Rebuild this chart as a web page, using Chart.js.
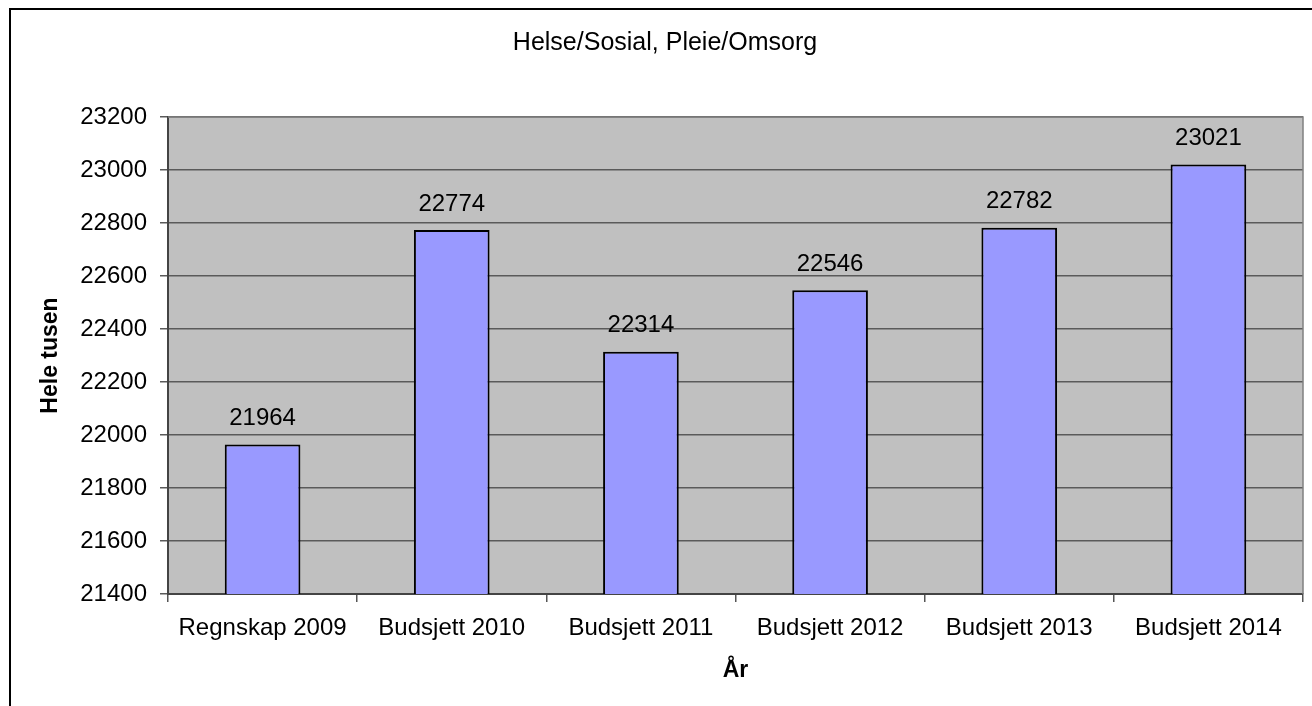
<!DOCTYPE html>
<html>
<head>
<meta charset="utf-8">
<script src="https://cdn.jsdelivr.net/npm/chart.js@4"></script>
<style>
  body { margin: 0; background: #fff; }
  #wrap { position: relative; width: 1312px; height: 706px; overflow: hidden; }
  #frame { position: absolute; left: 9px; top: 8px; width: 1320px; height: 720px; border: 2px solid #000; box-sizing: border-box; pointer-events: none; }
  canvas { position: absolute; left: 0; top: 0; }
</style>
</head>
<body>
<div id="wrap">
  <canvas id="chart" width="1312" height="706"></canvas>
  <div id="frame"></div>
</div>
<script>
  const categories = ['Regnskap 2009', 'Budsjett 2010', 'Budsjett 2011', 'Budsjett 2012', 'Budsjett 2013', 'Budsjett 2014'];
  const values = [21964, 22774, 22314, 22546, 22782, 23021];
  const yTicks = [21400, 21600, 21800, 22000, 22200, 22400, 22600, 22800, 23000, 23200];

  const FONT = "'Liberation Sans', Arial, sans-serif";

  // grå plottbakgrunn og ramme
  const plotBg = {
    id: 'plotBg',
    beforeDraw(chart) {
      const a = chart.chartArea;
      const c = chart.ctx;
      c.save();
      c.fillStyle = '#C0C0C0';
      c.fillRect(a.left, a.top, a.right - a.left, a.bottom - a.top);
      c.restore();
    },
    afterDatasetsDraw(chart) {
      const a = chart.chartArea;
      const c = chart.ctx;
      c.save();
      c.strokeStyle = '#808080';
      c.lineWidth = 1.5;
      c.beginPath();
      c.moveTo(a.left, a.top);
      c.lineTo(a.right, a.top);
      c.lineTo(a.right, a.bottom);
      c.stroke();
      c.restore();
    }
  };

  // verdier over søylene
  const barLabels = {
    id: 'barLabels',
    afterDatasetsDraw(chart) {
      const c = chart.ctx;
      const meta = chart.getDatasetMeta(0);
      c.save();
      c.fillStyle = '#000';
      c.font = '24px ' + FONT;
      c.textAlign = 'center';
      c.textBaseline = 'middle';
      meta.data.forEach((bar, i) => {
        c.fillText(String(values[i]), bar.x, bar.y - 26);
      });
      c.restore();
    }
  };

  const ctx = document.getElementById('chart').getContext('2d');
  new Chart(ctx, {
    type: 'bar',
    data: {
      labels: categories,
      datasets: [{
        data: values,
        backgroundColor: '#9999FF',
        borderColor: '#000',
        borderWidth: 2,
        borderSkipped: false,
        barPercentage: 0.4,
        categoryPercentage: 1
      }]
    },
    options: {
      responsive: false,
      animation: false,
      layout: { padding: { left: 27, right: 9, top: 0, bottom: 0 } },
      plugins: {
        legend: { display: false },
        tooltip: { enabled: false },
        title: {
          display: true,
          text: 'Helse/Sosial, Pleie/Omsorg',
          color: '#000',
          font: { family: FONT, size: 25, weight: 'normal', lineHeight: 1.2 },
          padding: { top: 28, bottom: 59 }
        }
      },
      scales: {
        x: {
          offset: true,
          afterFit(scale) { scale.height = 112; },
          grid: { offset: true, drawOnChartArea: false, tickLength: 8, color: '#555', lineWidth: 1.5 },
          border: { color: '#444', width: 2 },
          ticks: { color: '#000', padding: 12, font: { family: FONT, size: 24 }, maxRotation: 0 },
          title: {
            display: true,
            text: 'År',
            color: '#000',
            font: { family: FONT, size: 23, weight: 'bold', lineHeight: 1.2 },
            padding: { top: 22, bottom: 22 }
          }
        },
        y: {
          min: yTicks[0],
          max: yTicks[yTicks.length - 1],
          afterFit(scale) { scale.width = 141; },
          afterBuildTicks(scale) { scale.ticks = yTicks.map(v => ({ value: v })); },
          grid: { color: '#5a5a5a', lineWidth: 1.5, tickLength: 8 },
          border: { color: '#444', width: 2 },
          ticks: {
            color: '#000',
            padding: 13,
            font: { family: FONT, size: 24 },
            callback: v => String(v)
          },
          title: {
            display: true,
            text: 'Hele tusen',
            color: '#000',
            font: { family: FONT, size: 23, weight: 'bold', lineHeight: 1.2 },
            padding: { top: 10, bottom: 10 }
          }
        }
      }
    },
    plugins: [plotBg, barLabels]
  });
</script>
</body>
</html>
